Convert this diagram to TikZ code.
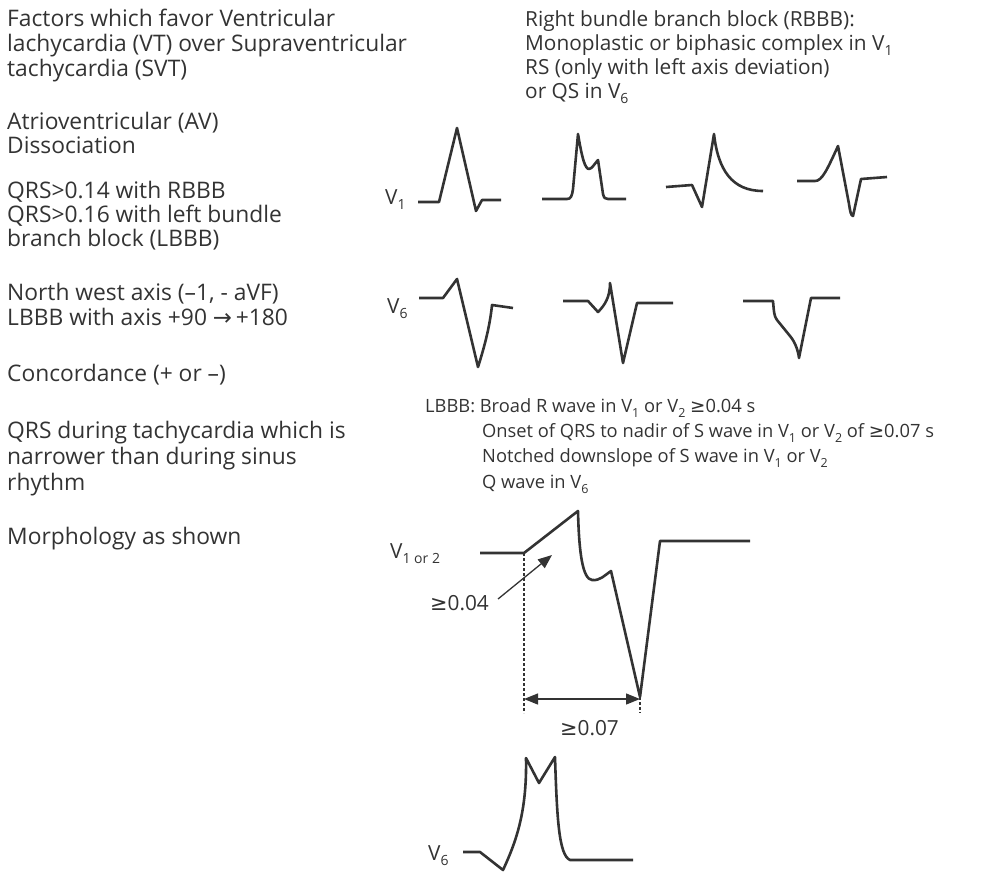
\documentclass[tikz,border=0pt]{standalone}
\usepackage{fontspec}
\setmainfont{Open Sans}
\newfontfamily\symfont{DejaVu Sans}
\usetikzlibrary{arrows.meta}
\pgfdeclarelayer{edgelayer}
\pgfdeclarelayer{nodelayer}
\pgfsetlayers{edgelayer,nodelayer,main}
\definecolor{ink}{HTML}{333333}
\tikzset{font=\fontsize{20.8}{24}\selectfont}
\tikzstyle{none}=[inner sep=0pt]
\tikzstyle{left}=[inner sep=0pt,anchor=base west,text=ink,font=\fontsize{22.8}{26}\selectfont]
\tikzstyle{right}=[inner sep=0pt,anchor=base west,text=ink]
\tikzstyle{small}=[inner sep=0pt,anchor=base west,text=ink,font=\fontsize{18.3}{25}\selectfont]
\tikzstyle{trace}=[draw=ink,line width=2.6pt,line join=round]
\tikzstyle{guide}=[draw=ink,line width=1.6pt,dash pattern=on 3pt off 2pt]
\tikzstyle{dim}=[draw=ink,line width=1.3pt,-{Triangle[length=14pt,width=11pt]}]
\newcommand{\sbs}[2][14]{\raisebox{-5pt}{\fontsize{#1}{#1}\selectfont #2}}
\newcommand{\gteq}{{\symfont ≥}}

\begin{document}
\begin{tikzpicture}[x=1pt,y=-1pt]
	\useasboundingbox (0,0) rectangle (1000,878);
	\begin{pgfonlayer}{nodelayer}
		% left column
		\node [style=left] (0) at (7,26) {Factors which favor Ventricular};
		\node [style=left] (1) at (7,51) {lachycardia (VT) over Supraventricular};
		\node [style=left] (2) at (7,76) {tachycardia (SVT)};
		\node [style=left] (3) at (7,129) {Atrioventricular (AV)};
		\node [style=left] (4) at (7,153) {Dissociation};
		\node [style=left] (5) at (7,198) {QRS>0.14 with RBBB};
		\node [style=left] (6) at (7,222) {QRS>0.16 with left bundle};
		\node [style=left] (7) at (7,246) {branch block (LBBB)};
		\node [style=left] (8) at (7,300) {North west axis (–1, - aVF)};
		\node [style=left] (9) at (7,325) {LBBB with axis +90 {\symfont →}\,+180};
		\node [style=left] (10) at (7,381) {Concordance (+ or –)};
		\node [style=left] (11) at (7,438) {QRS during tachycardia which is};
		\node [style=left] (12) at (7,464) {narrower than during sinus};
		\node [style=left] (13) at (7,490) {rhythm};
		\node [style=left] (14) at (7,544) {Morphology as shown};
		% right column
		\node [style=right] (15) at (525,26) {Right bundle branch block (RBBB):};
		\node [style=right] (16) at (525,50) {Monoplastic or biphasic complex in V\sbs{1}};
		\node [style=right] (17) at (525,74) {RS (only with left axis deviation)};
		\node [style=right] (18) at (525,98) {or QS in V\sbs{6}};
		\node [style=small] (19) at (425,412) {LBBB: Broad R wave in V\sbs[12.5]{1} or V\sbs[12.5]{2} \gteq0.04 s};
		\node [style=small] (20) at (482,437) {Onset of QRS to nadir of S wave in V\sbs[12.5]{1} or V\sbs[12.5]{2} of \gteq0.07 s};
		\node [style=small] (21) at (482,462.5) {Notched downslope of S wave in V\sbs[12.5]{1} or V\sbs[12.5]{2}};
		\node [style=small] (22) at (482,488) {Q wave in V\sbs[12.5]{6}};
		% lead labels
		\node [style=right] (23) at (385,204) {V\sbs{1}};
		\node [style=right] (24) at (387,313) {V\sbs{6}};
		\node [style=right] (25) at (390,558) {V\sbs{1 or 2}};
		\node [style=right] (26) at (428,860) {V\sbs{6}};
		\node [style=right] (27) at (430,610) {\gteq0.04};
		\node [style=right] (28) at (560,735) {\gteq0.07};
		% measuring points
		\node [style=none] (29) at (524,553) {};
		\node [style=none] (30) at (524,713) {};
		\node [style=none] (31) at (640,697) {};
		\node [style=none] (32) at (640,713) {};
		\node [style=none] (33) at (524,699) {};
		\node [style=none] (34) at (640,699) {};
		\node [style=none] (35) at (498,599) {};
		\node [style=none] (36) at (552,555) {};
	\end{pgfonlayer}
	\begin{pgfonlayer}{edgelayer}
		% V1 row
		\draw [style=trace] (418,202) -- (439,202) -- (457,128) -- (476,211) -- (482,200) -- (501,200);
		\draw [style=trace] (542,199) -- (567,199) .. controls (571,199) and (572,196) .. (573,189) -- (578,134) .. controls (582,158) and (585,169) .. (589,169) .. controls (592,169) and (595,163) .. (598,160) -- (603,194) .. controls (604,198) and (605,199) .. (608,199) -- (626,199);
		\draw [style=trace] (666,187) -- (692,185) -- (702,207) -- (714,134) .. controls (718,170) and (732,191) .. (763,191);
		\draw [style=trace] (797,181) -- (815,181) .. controls (822,181) and (827,170) .. (838,146) -- (849,204) .. controls (850,211) and (851,216) .. (853,216) -- (861,179) -- (887,177);
		% V6 row
		\draw [style=trace] (419,298) -- (443,298) -- (457,279) -- (478,367) .. controls (485,345) and (490,325) .. (492,305) -- (513,308);
		\draw [style=trace] (563,301) -- (588,301) -- (598,312) .. controls (605,305) and (610,297) .. (610,283) -- (623,363) -- (637,303) -- (673,303);
		\draw [style=trace] (743,301) -- (773,301) .. controls (774,312) and (774,316) .. (777,320) -- (790,336) .. controls (795,342) and (798,350) .. (799,358) -- (811,298) -- (840,298);
		% LBBB V1 or 2
		\draw [style=trace] (480,553) -- (524,553) -- (578,511) .. controls (579,555) and (583,579) .. (592,580) .. controls (600,581) and (605,575) .. (611,571) -- (640,697) -- (660,541) -- (750,541);
		\draw [style=guide] (29.center) to (30.center);
		\draw [style=guide] (31.center) to (32.center);
		\draw [style=dim,{Triangle[length=14pt,width=11pt]}-{Triangle[length=14pt,width=11pt]}] (33.center) to (34.center);
		\draw [style=dim] (35.center) to (36.center);
		% LBBB V6
		\draw [style=trace] (463,852) -- (480,852) -- (503,870) .. controls (517,840) and (527,810) .. (526,758) -- (539,783) -- (555,757) .. controls (557,820) and (559,855) .. (570,860) -- (633,860);
	\end{pgfonlayer}
\end{tikzpicture}
\end{document}
